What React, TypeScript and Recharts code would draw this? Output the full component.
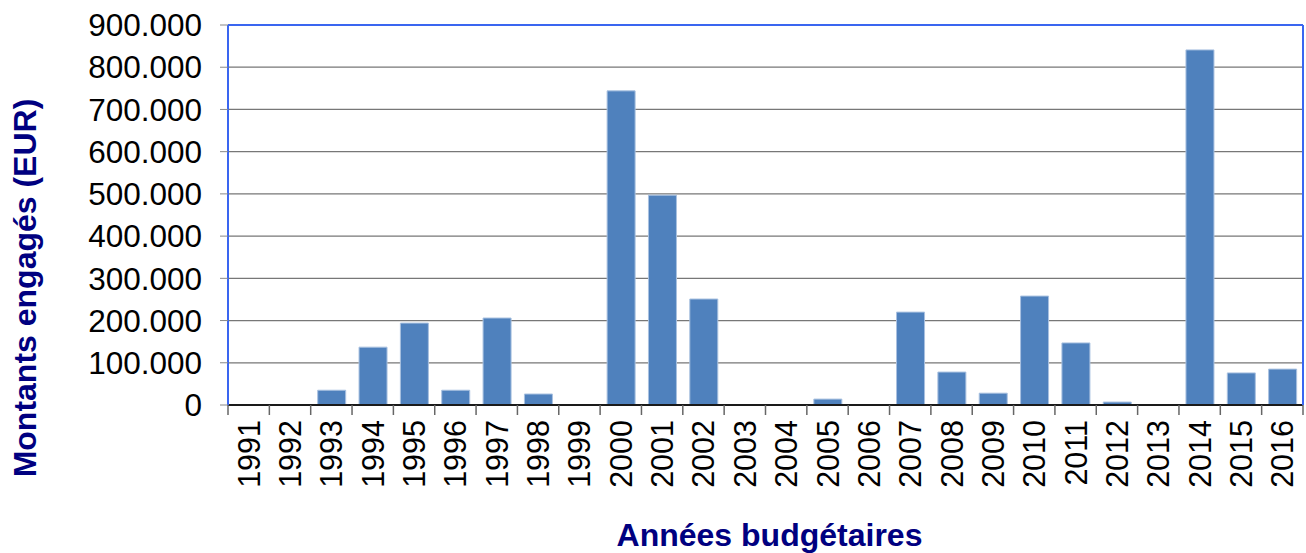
import { Bar, BarChart, CartesianGrid, Label, ReferenceLine, XAxis, YAxis } from 'recharts'

const years = [
  '1991', '1992', '1993', '1994', '1995', '1996', '1997', '1998', '1999', '2000', '2001', '2002', '2003',
  '2004', '2005', '2006', '2007', '2008', '2009', '2010', '2011', '2012', '2013', '2014', '2015', '2016',
]
const amounts = [
  0, 0, 35000, 137000, 194000, 35000, 206000, 26000, 0, 744000, 497000, 251000, 0,
  0, 14000, 0, 220000, 78000, 28000, 258000, 147000, 7000, 0, 841000, 76000, 85000,
]
const yTicks = [0, 100000, 200000, 300000, 400000, 500000, 600000, 700000, 800000, 900000]

const data = years.map((year, i) => ({ year, amount: amounts[i] }))

const FONT = '"Liberation Sans", Arial, sans-serif'
const BORDER = '#3a66f0'
const TITLE = '#000080'
const TICK_SIZE = 10
const TICK_MARGIN = 5

const formatAmount = (v: number) => (v === 0 ? '0' : `${v / 1000}.000`)

function YearTick(props: any) {
  const { x, y, payload, index } = props
  const half = payload.offset ?? 0
  const axisY = y - TICK_SIZE - TICK_MARGIN
  return (
    <g>
      <line x1={x - half} x2={x - half} y1={axisY} y2={axisY + TICK_SIZE} stroke="#666" strokeWidth={1.5} />
      {index === years.length - 1 && (
        <line x1={x + half} x2={x + half} y1={axisY} y2={axisY + TICK_SIZE} stroke="#666" strokeWidth={1.5} />
      )}
      <text
        x={x}
        y={y}
        transform={`rotate(-90, ${x}, ${y})`}
        textAnchor="end"
        dominantBaseline="central"
        fontSize={30.5}
        fontFamily={FONT}
        fill="#000"
      >
        {payload.value}
      </text>
    </g>
  )
}

export default function App() {
  return (
    <div style={{ position: 'absolute', left: 0, top: 0, background: '#fff' }}>
      <BarChart
        width={1306}
        height={553}
        data={data}
        margin={{ top: 25, right: 0, left: 0, bottom: 0 }}
        barSize={28}
      >
        <CartesianGrid vertical={false} stroke="#777" strokeWidth={1.2} yAxisId="left" />
        <XAxis
          dataKey="year"
          height={148}
          interval={0}
          tickLine={false}
          tickSize={TICK_SIZE}
          tickMargin={TICK_MARGIN}
          tick={<YearTick />}
          axisLine={{ stroke: '#1a1a1a', strokeWidth: 2 }}
        >
          <Label
            content={({ viewBox }: any) => (
              <text
                x={viewBox.x + viewBox.width / 2 + 4}
                y={viewBox.y + 130}
                textAnchor="middle"
                dominantBaseline="central"
                fontSize={32}
                fontWeight="bold"
                fontFamily={FONT}
                fill={TITLE}
              >
                Années budgétaires
              </text>
            )}
          />
        </XAxis>
        <YAxis
          yAxisId="left"
          width={228}
          domain={[0, 900000]}
          ticks={yTicks}
          tickFormatter={formatAmount}
          tickSize={8}
          tickMargin={18}
          tickLine={{ stroke: '#888' }}
          tick={{ fontSize: 31.5, fontFamily: FONT, fill: '#000' }}
          axisLine={{ stroke: BORDER, strokeWidth: 2 }}
        >
          <Label
            content={({ viewBox }: any) => {
              const cx = 25
              const cy = viewBox.y + viewBox.height / 2 + 73
              return (
                <text
                  x={cx}
                  y={cy}
                  transform={`rotate(-90, ${cx}, ${cy})`}
                  textAnchor="middle"
                  dominantBaseline="central"
                  fontSize={32}
                  fontWeight="bold"
                  fontFamily={FONT}
                  fill={TITLE}
                >
                  Montants engagés (EUR)
                </text>
              )
            }}
          />
        </YAxis>
        <YAxis
          yAxisId="right"
          orientation="right"
          width={3}
          tick={false}
          tickLine={false}
          axisLine={{ stroke: BORDER, strokeWidth: 2 }}
        />
        <ReferenceLine yAxisId="left" y={900000} stroke={BORDER} strokeWidth={2} />
        <Bar
          yAxisId="left"
          dataKey="amount"
          fill="#4f81bd"
          stroke="#a9c1e0"
          strokeWidth={1}
          isAnimationActive={false}
        />
      </BarChart>
    </div>
  )
}
